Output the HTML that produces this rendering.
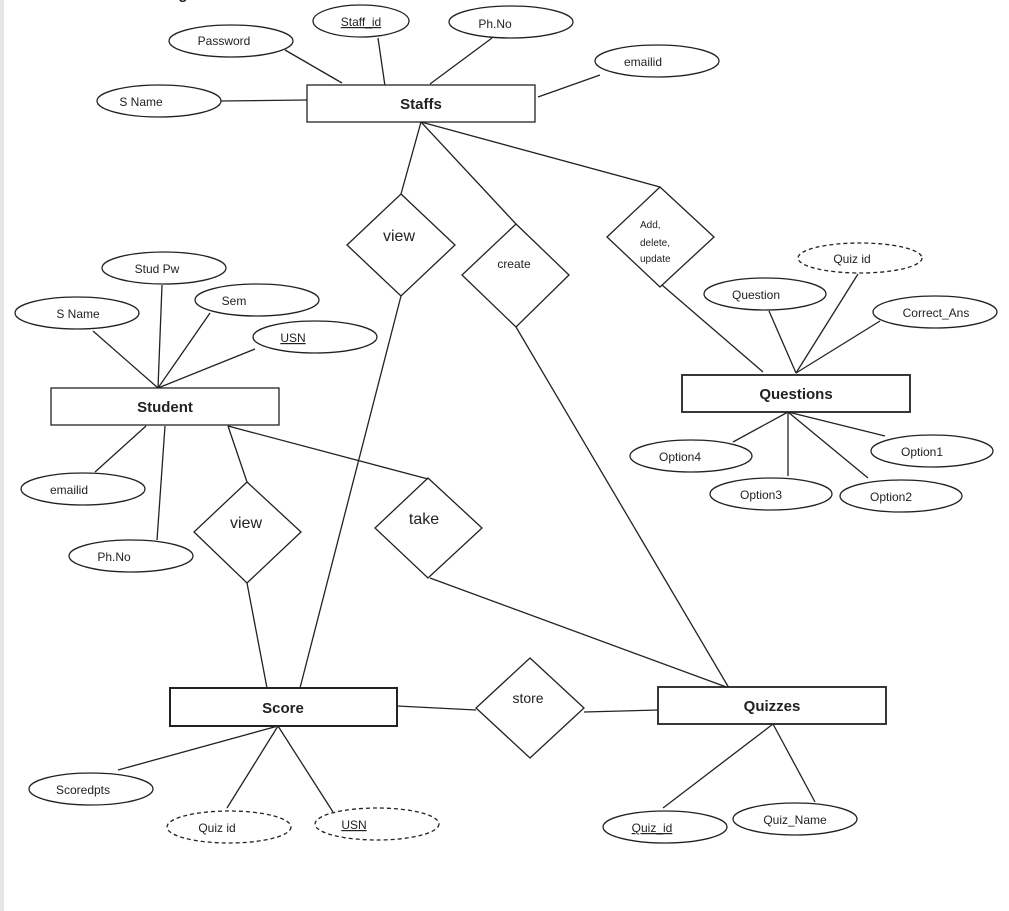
<!DOCTYPE html>
<html><head><meta charset="utf-8"><style>
html,body{margin:0;padding:0;background:#fff;}
svg{display:block;}
text{font-family:"Liberation Sans",sans-serif;fill:#222;}
</style></head><body>
<svg width="1009" height="911" viewBox="0 0 1009 911" xmlns="http://www.w3.org/2000/svg">
<rect x="0" y="0" width="4" height="911" fill="#e6e6e6"/>
<text x="125" y="-1" font-family="Liberation Serif" font-weight="bold" font-size="15">E-R Diagram:</text>
<g stroke="#222" stroke-width="1.3" fill="none">
<line x1="285" y1="50" x2="342" y2="83"/>
<line x1="378" y1="38" x2="385" y2="86"/>
<line x1="492" y1="38" x2="430" y2="84"/>
<line x1="600" y1="75" x2="538" y2="97"/>
<line x1="221" y1="101" x2="307" y2="100"/>
<line x1="421" y1="122" x2="401" y2="194"/>
<line x1="421" y1="122" x2="516" y2="224"/>
<line x1="421" y1="122" x2="660" y2="187"/>
<line x1="662" y1="285" x2="763" y2="372"/>
<line x1="769" y1="311" x2="796" y2="373"/>
<line x1="858" y1="274" x2="796" y2="373"/>
<line x1="880" y1="321" x2="796" y2="373"/>
<line x1="788" y1="412" x2="733" y2="442"/>
<line x1="788" y1="412" x2="788" y2="476"/>
<line x1="788" y1="412" x2="868" y2="478"/>
<line x1="788" y1="412" x2="885" y2="436"/>
<line x1="162" y1="285" x2="158" y2="388"/>
<line x1="210" y1="313" x2="158" y2="388"/>
<line x1="93" y1="331" x2="158" y2="388"/>
<line x1="255" y1="349" x2="158" y2="388"/>
<line x1="146" y1="426" x2="95" y2="472"/>
<line x1="165" y1="426" x2="157" y2="540"/>
<line x1="228" y1="426" x2="247" y2="482"/>
<line x1="228" y1="426" x2="428" y2="479"/>
<line x1="247" y1="583" x2="267" y2="688"/>
<line x1="401" y1="296" x2="300" y2="688"/>
<line x1="516" y1="327" x2="729" y2="688"/>
<line x1="430" y1="578" x2="729" y2="688"/>
<line x1="397" y1="706" x2="476" y2="710"/>
<line x1="584" y1="712" x2="658" y2="710"/>
<line x1="278" y1="726" x2="118" y2="770"/>
<line x1="278" y1="726" x2="227" y2="808"/>
<line x1="278" y1="726" x2="333" y2="812"/>
<line x1="773" y1="724" x2="663" y2="808"/>
<line x1="773" y1="724" x2="815" y2="802"/>
<polygon points="401,194 455,245 401,296 347,245"/>
<polygon points="516,224 569,275 516,327 462,275"/>
<polygon points="660,187 714,237 660,287 607,237"/>
<polygon points="247,482 301,532 247,583 194,532"/>
<polygon points="428,478 482,528 428,578 375,528"/>
<polygon points="530,658 584,708 530,758 476,708"/>
<ellipse cx="231" cy="41" rx="62" ry="16"/>
<ellipse cx="361" cy="21" rx="48" ry="16"/>
<ellipse cx="511" cy="22" rx="62" ry="16"/>
<ellipse cx="657" cy="61" rx="62" ry="16"/>
<ellipse cx="159" cy="101" rx="62" ry="16"/>
<ellipse cx="860" cy="258" rx="62" ry="15" stroke-dasharray="4,3"/>
<ellipse cx="765" cy="294" rx="61" ry="16"/>
<ellipse cx="935" cy="312" rx="62" ry="16"/>
<ellipse cx="691" cy="456" rx="61" ry="16"/>
<ellipse cx="771" cy="494" rx="61" ry="16"/>
<ellipse cx="901" cy="496" rx="61" ry="16"/>
<ellipse cx="932" cy="451" rx="61" ry="16"/>
<ellipse cx="164" cy="268" rx="62" ry="16"/>
<ellipse cx="257" cy="300" rx="62" ry="16"/>
<ellipse cx="77" cy="313" rx="62" ry="16"/>
<ellipse cx="315" cy="337" rx="62" ry="16"/>
<ellipse cx="83" cy="489" rx="62" ry="16"/>
<ellipse cx="131" cy="556" rx="62" ry="16"/>
<ellipse cx="91" cy="789" rx="62" ry="16"/>
<ellipse cx="229" cy="827" rx="62" ry="16" stroke-dasharray="4,3"/>
<ellipse cx="377" cy="824" rx="62" ry="16" stroke-dasharray="4,3"/>
<ellipse cx="665" cy="827" rx="62" ry="16"/>
<ellipse cx="795" cy="819" rx="62" ry="16"/>
</g>
<g fill="#fff" stroke="#222">
<rect x="307" y="85" width="228" height="37" stroke-width="1.3"/>
<rect x="682" y="375" width="228" height="37" stroke-width="1.8"/>
<rect x="51" y="388" width="228" height="37" stroke-width="1.3"/>
<rect x="170" y="688" width="227" height="38" stroke-width="2"/>
<rect x="658" y="687" width="228" height="37" stroke-width="1.8"/>
</g>
<g font-weight="bold" font-size="15" text-anchor="middle">
<text x="421" y="109">Staffs</text>
<text x="796" y="399">Questions</text>
<text x="165" y="412">Student</text>
<text x="283" y="713">Score</text>
<text x="772" y="711">Quizzes</text>
</g>
<g font-size="12" text-anchor="middle">
<text x="224" y="45">Password</text>
<text x="361" y="26" text-decoration="underline">Staff_id</text>
<text x="495" y="28">Ph.No</text>
<text x="643" y="66">emailid</text>
<text x="141" y="106">S  Name</text>
<text x="852" y="263">Quiz  id</text>
<text x="756" y="299">Question</text>
<text x="936" y="317">Correct_Ans</text>
<text x="680" y="461">Option4</text>
<text x="761" y="499">Option3</text>
<text x="891" y="501">Option2</text>
<text x="922" y="456">Option1</text>
<text x="157" y="273">Stud  Pw</text>
<text x="234" y="305">Sem</text>
<text x="78" y="318">S  Name</text>
<text x="293" y="342" text-decoration="underline">USN</text>
<text x="69" y="494">emailid</text>
<text x="114" y="561">Ph.No</text>
<text x="83" y="794">Scoredpts</text>
<text x="217" y="832">Quiz  id</text>
<text x="354" y="829" text-decoration="underline">USN</text>
<text x="652" y="832" text-decoration="underline">Quiz_id</text>
<text x="795" y="824">Quiz_Name</text>
<text x="514" y="268">create</text>
<text x="528" y="703" font-size="14">store</text>
</g>
<g font-size="16" text-anchor="middle">
<text x="399" y="241">view</text>
<text x="246" y="528">view</text>
<text x="424" y="524">take</text>
</g>
<g font-size="10">
<text x="640" y="228">Add,</text>
<text x="640" y="246">delete,</text>
<text x="640" y="262">update</text>
</g>
</svg>
</body></html>
